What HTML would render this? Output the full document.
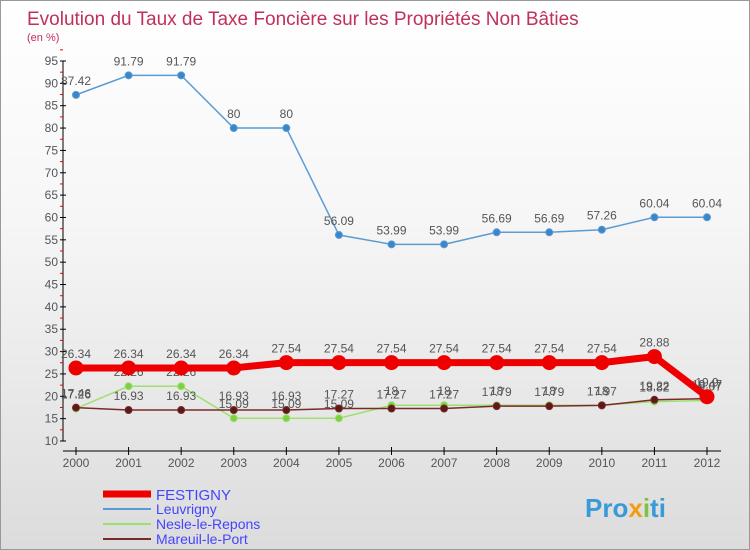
<!DOCTYPE html>
<html><head><meta charset="utf-8"><style>
body{margin:0}
#c{width:750px;height:550px;position:relative;overflow:hidden;font-family:"Liberation Sans",sans-serif;
background:linear-gradient(#fff 0%,#f6f6f6 40%,#dcdcdc 100%);border:1px solid #999;box-sizing:border-box}
</style></head><body>
<div id="c">
<svg id="s" width="750" height="550" xmlns="http://www.w3.org/2000/svg">
<text x="26" y="24" font-size="19" fill="#c0305a">Evolution du Taux de Taxe Foncière sur les Propriétés Non Bâties</text>
<text x="26" y="40" font-size="11" fill="#c0305a">(en %)</text>
<g id="axes"></g><g id="series"></g>
<g>
<line x1="102" y1="493" x2="150" y2="493" stroke="#e00" stroke-width="7"/>
<text x="155" y="499" font-size="15" fill="#44f">FESTIGNY</text>
<line x1="102" y1="508" x2="150" y2="508" stroke="#5b9bd5" stroke-width="2"/>
<text x="155" y="513" font-size="14" fill="#44f">Leuvrigny</text>
<line x1="102" y1="523" x2="150" y2="523" stroke="#9de070" stroke-width="2"/>
<text x="155" y="528" font-size="14" fill="#44f">Nesle-le-Repons</text>
<line x1="102" y1="538" x2="150" y2="538" stroke="#7a2a2a" stroke-width="2"/>
<text x="155" y="543" font-size="14" fill="#44f">Mareuil-le-Port</text>
</g>
<text x="584" y="516" font-size="26" font-weight="bold" fill="#3a9ad9">Pro<tspan fill="#f39c12">x</tspan><tspan fill="#7dc242">i</tspan>ti</text>
</svg></div>
<script>
const years=["2000","2001","2002","2003","2004","2005","2006","2007","2008","2009","2010","2011","2012"];
const yTicks=[10,15,20,25,30,35,40,45,50,55,60,65,70,75,80,85,90,95];
const festigny=[26.34,26.34,26.34,26.34,27.54,27.54,27.54,27.54,27.54,27.54,27.54,28.88,19.9];
const leuvrigny=[87.42,91.79,91.79,80,80,56.09,53.99,53.99,56.69,56.69,57.26,60.04,60.04];
const nesle=[17.26,22.26,22.26,15.09,15.09,15.09,18,18,18,18,18,18.82,19.07];
const mareuil=[17.46,16.93,16.93,16.93,16.93,17.27,17.27,17.27,17.79,17.79,17.97,19.22,19.47];
const NS="http://www.w3.org/2000/svg";
const X=i=>75+i*(706-75)/(years.length-1);
const Y=v=>440-(v-10)*(380/85);
function mk(t,a,p){const e=document.createElementNS(NS,t);for(const k in a)e.setAttribute(k,a[k]);p.appendChild(e);return e;}
const ax=document.getElementById('axes');
const yl=mk('line',{x1:62,y1:Y(95),x2:62,y2:440,stroke:'#000'},ax);


const xl=mk('line',{x1:62,y1:450,x2:720,y2:450,stroke:'#000'},ax);


yTicks.forEach(v=>{
 mk('line',{x1:59,y1:Y(v),x2:65,y2:Y(v),stroke:'#000'},ax);
 mk('line',{x1:59,y1:Y(v+2.5),x2:62,y2:Y(v+2.5),stroke:'#e00'},ax);
 const t=mk('text',{x:57,y:Y(v)+4,'font-size':12,'text-anchor':'end',fill:'#555'},ax);t.textContent=v;
 
 
});
years.forEach((y,i)=>{
 mk('line',{x1:X(i),y1:446,x2:X(i),y2:454,stroke:'#000'},ax);
 const t=mk('text',{x:X(i),y:466,'font-size':12,'text-anchor':'middle',fill:'#555'},ax);t.textContent=y;
 
 
});
const sg=document.getElementById('series');
function series(vals,name,col,w,r,fill){
 const g=mk('g',{},sg);
 
 
 const l=mk('polyline',{points:vals.map((v,i)=>X(i)+','+Y(v)).join(' '),fill:'none',stroke:col,'stroke-width':w,'stroke-linejoin':'round'},g);
 
 
 vals.forEach((v,i)=>{
  const c=mk('circle',{cx:X(i),cy:Y(v),r:r,fill:fill,stroke:col,'stroke-width':1},g);
  
  
  const t=mk('text',{x:X(i),y:Y(v)-10,'font-size':12,'text-anchor':'middle',fill:'#555'},g);t.textContent=v;
  
  
 });
}
series(leuvrigny,'leuvrigny','#5b9bd5',1.5,3.5,'#3a86c8');
series(nesle,'nesle','#9de070',1.5,3.5,'#7dd040');
series(mareuil,'mareuil','#7a2a2a',1.5,3.5,'#5a1a1a');
series(festigny,'festigny','#e00',7,7,'#e00');
</script>
</body></html>
